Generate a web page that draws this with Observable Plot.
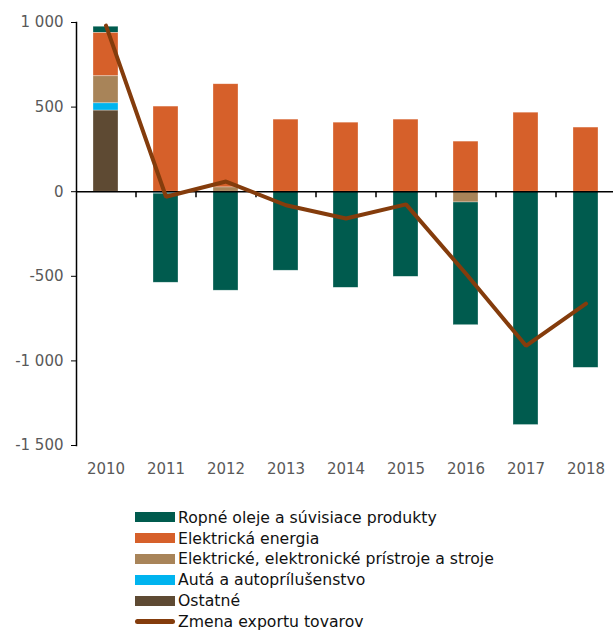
<!DOCTYPE html>
<html><head><meta charset="utf-8">
<script src="https://cdn.jsdelivr.net/npm/d3@7"></script>
<script src="https://cdn.jsdelivr.net/npm/@observablehq/plot@0.6"></script>
<style>
body{margin:0;background:#fff;font-family:"DejaVu Sans",sans-serif}
#legend{margin-top:17px}
.row{display:flex;align-items:center;height:20.8px;font-size:15.7px;color:#111}
.sw{display:inline-block;width:40px;height:10px;margin-left:135px;margin-right:3px}
.ln{height:5px;border-radius:3px}
</style>
</head><body><div id="chart"></div><div id="legend"></div>
<script>
const years = ["2010","2011","2012","2013","2014","2015","2016","2017","2018"];
const seriesNames = ["Ropné oleje a súvisiace produkty","Elektrická energia","Elektrické, elektronické prístroje a stroje","Autá a autoprílušenstvo","Ostatné"];
const lineName = "Zmena exportu tovarov";
const colors = ["#005B4E","#D6602A","#A88459","#00B4EF","#5E4A33"];
const lineColor = "#843C0C";
const ropne     = [37, -527, -585, -467, -568, -503, -726, -1379, -1041];
const energia   = [256, 503, 610, 426, 408, 426, 296, 467, 379];
const pristroje = [160, -3, 25, 0, 0, 0, -63, 0, 0];
const auta      = [43, -8, 0, 0, 0, 0, 0, 0, 0];
const ostatne   = [479, 0, 0, 0, 0, 0, 0, 0, 0];
const zmena     = [982, -30, 60, -80, -158, -75, -485, -911, -661];
const yTicks = [-1500, -1000, -500, 0, 500, 1000];

const seriesValues = [ropne, energia, pristroje, auta, ostatne];
const data = [];
years.forEach((y, i) => {
  seriesNames.forEach((s, k) => data.push({year: y, series: s, value: seriesValues[k][i]}));
});
const lineData = years.map((y, i) => ({year: y, value: zmena[i]}));
const stackOrder = [...seriesNames].reverse();
const fmt = d => d3.format(",")(d).replace(/,/g, " ").replace("−", "-");

const chart = Plot.plot({
  width: 613, height: 490,
  marginLeft: 76, marginRight: 0, marginTop: 22, marginBottom: 45,
  style: {fontFamily: "DejaVu Sans, sans-serif", fontSize: "15px", background: "#fff"},
  x: {domain: years, range: [76, 616], paddingInner: 0.58, paddingOuter: 0.29, label: null},
  y: {domain: [-1500, 1000], label: null},
  color: {domain: seriesNames, range: colors},
  marks: [
    Plot.barY(data, {x: "year", y: "value", fill: "series", order: stackOrder, stroke: "#fff", strokeWidth: 0.6, strokeOpacity: 0.5}),
    Plot.ruleY([0], {stroke: "#000", strokeWidth: 1.5}),
    Plot.ruleX(years.slice(0, -1), {x: d => d, y1: 0, y2: -36, dx: 30, stroke: "#000", strokeWidth: 1.5}),
    Plot.line(lineData, {x: "year", y: "value", stroke: lineColor, strokeWidth: 4, strokeLinejoin: "miter"}),
    Plot.frame({anchor: "left", stroke: "#000", strokeWidth: 1.5}),
    Plot.axisY({ticks: yTicks, tickFormat: fmt, tickSize: 5, tickPadding: 8, stroke: "#000", fill: "#595959", label: null}),
    Plot.axisX({tickSize: 0, tickPadding: 18, fill: "#595959", label: null})
  ]
});
document.getElementById("chart").appendChild(chart);

const legend = document.getElementById("legend");
seriesNames.forEach((s, k) => {
  const r = document.createElement("div"); r.className = "row";
  r.innerHTML = `<span class="sw" style="background:${colors[k]}"></span><span>${s}</span>`;
  legend.appendChild(r);
});
const r = document.createElement("div"); r.className = "row";
r.innerHTML = `<span class="sw ln" style="background:${lineColor}"></span><span>${lineName}</span>`;
legend.appendChild(r);
</script>
</body></html>
